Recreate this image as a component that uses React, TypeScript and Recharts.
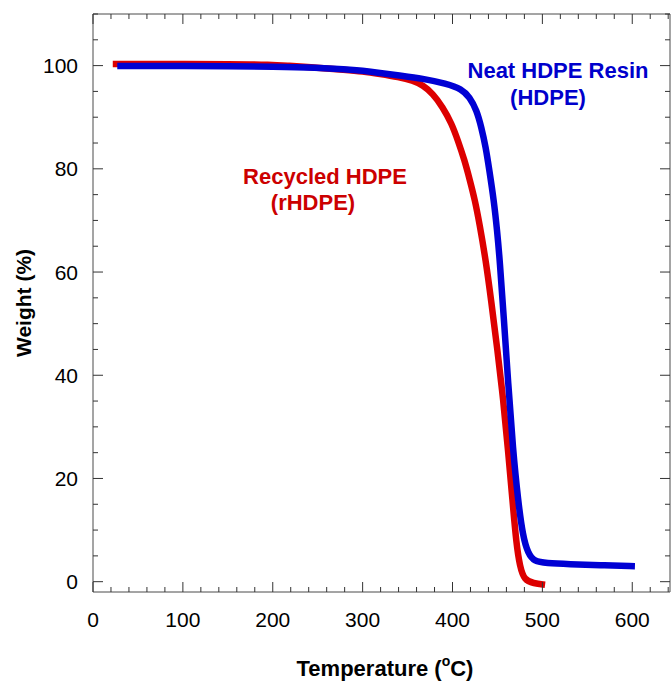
import React from "react";
import { LineChart, Line, XAxis, YAxis } from "recharts";

// rHDPE (recycled) TGA curve
const rhdpeTemp = [22, 60, 100, 150, 200, 215, 250, 280, 300, 319, 340, 356, 367, 378, 389, 399, 406, 413.5, 419, 425, 430, 437, 443, 450, 456.5, 461.8, 466.7, 471, 475, 480, 490, 503];
const rhdpeWeight = [100.3, 100.3, 100.3, 100.3, 100.2, 100.0, 99.6, 99.2, 98.9, 98.4, 97.8, 97.1, 96.2, 94.6, 92.0, 88.8, 85.5, 81.6, 78.0, 73.9, 69.4, 62.3, 54.5, 44.9, 35.2, 25.5, 15.8, 7.4, 2.9, 0.3, -0.3, -0.6];

// neat HDPE resin TGA curve
const hdpeTemp = [27, 60, 100, 150, 200, 250, 280, 300, 319, 340, 367, 393, 410, 419, 427, 432, 437, 441, 446, 449.6, 452.6, 457, 462, 467.3, 472.9, 478.4, 484, 491, 504, 530, 564, 603];
const hdpeWeight = [99.9, 99.9, 99.9, 99.9, 99.8, 99.6, 99.3, 99.0, 98.6, 98.1, 97.5, 96.5, 95.5, 93.9, 91.3, 88.1, 84.2, 79.7, 73.9, 68.1, 62.3, 51.3, 38.4, 25.5, 15.8, 8.7, 5.5, 3.9, 3.6, 3.4, 3.2, 3.0];

const xTicks = [0, 20, 40, 60, 80, 100, 120, 140, 160, 180, 200, 220, 240, 260, 280, 300, 320, 340, 360, 380, 400, 420, 440, 460, 480, 500, 520, 540, 560, 580, 600, 620, 640];
const xLabels = [0, 100, 200, 300, 400, 500, 600];
const yTicks = [0, 5, 10, 15, 20, 25, 30, 35, 40, 45, 50, 55, 60, 65, 70, 75, 80, 85, 90, 95, 100, 105, 110];
const yLabels = [0, 20, 40, 60, 80, 100];

const rhdpe = rhdpeTemp.map((t, i) => ({ t, w: rhdpeWeight[i] }));
const hdpe = hdpeTemp.map((t, i) => ({ t, w: hdpeWeight[i] }));

const font = "Liberation Sans, Arial, Helvetica, sans-serif";
const tickColor = "#333";
const frameColor = "#4a4a4a";

const BottomTick = (props: any) => {
  const { x, y, payload } = props;
  const v = payload.value;
  const major = v % 100 === 0;
  return (
    <g>
      <line x1={x} x2={x} y1={y} y2={y - (major ? 10 : 5)} stroke={tickColor} />
      {xLabels.includes(v) && (
        <text x={x} y={y + 35} textAnchor="middle" fontSize={21} fontFamily={font} fill="#000">
          {v}
        </text>
      )}
    </g>
  );
};

const TopTick = (props: any) => {
  const { x, y, payload } = props;
  const major = payload.value % 100 === 0;
  return <line x1={x} x2={x} y1={y} y2={y + (major ? 10 : 5)} stroke={tickColor} />;
};

const LeftTick = (props: any) => {
  const { x, y, payload } = props;
  const v = payload.value;
  const major = v % 20 === 0 && v <= 100;
  return (
    <g>
      <line x1={x} x2={x + (major ? 10 : 5)} y1={y} y2={y} stroke={tickColor} />
      {yLabels.includes(v) && (
        <text x={x - 15} y={y} dy="0.36em" textAnchor="end" fontSize={21} fontFamily={font} fill="#000">
          {v}
        </text>
      )}
    </g>
  );
};

const RightTick = (props: any) => {
  const { x, y, payload } = props;
  const v = payload.value;
  const major = v % 20 === 0 && v <= 100;
  return <line x1={x} x2={x - (major ? 10 : 5)} y1={y} y2={y} stroke={tickColor} />;
};

export default function App() {
  return (
    <div style={{ position: "absolute", left: 0, top: 0, width: 671, height: 682, background: "#fff" }}>
      <LineChart width={671} height={682} margin={{ top: 4, right: 0, bottom: 0, left: 0 }}>
        <XAxis
          xAxisId="bottom"
          dataKey="t"
          type="number"
          domain={[0, 642]}
          ticks={xTicks}
          interval={0}
          allowDataOverflow
          height={90}
          tickSize={0}
          tickMargin={0}
          tickLine={false}
          axisLine={{ stroke: frameColor }}
          tick={BottomTick}
        />
        <XAxis
          xAxisId="top"
          orientation="top"
          dataKey="t"
          type="number"
          domain={[0, 642]}
          ticks={xTicks}
          interval={0}
          allowDataOverflow
          height={10}
          tickSize={0}
          tickMargin={0}
          tickLine={false}
          axisLine={{ stroke: frameColor }}
          tick={TopTick}
        />
        <YAxis
          yAxisId="left"
          dataKey="w"
          type="number"
          domain={[-2, 110]}
          ticks={yTicks}
          interval={0}
          allowDataOverflow
          width={93}
          tickSize={0}
          tickMargin={0}
          tickLine={false}
          axisLine={{ stroke: frameColor }}
          tick={LeftTick}
        />
        <YAxis
          yAxisId="right"
          orientation="right"
          dataKey="w"
          type="number"
          domain={[-2, 110]}
          ticks={yTicks}
          interval={0}
          allowDataOverflow
          width={1}
          tickSize={0}
          tickMargin={0}
          tickLine={false}
          axisLine={{ stroke: frameColor }}
          tick={RightTick}
        />
        <Line
          xAxisId="top"
          yAxisId="right"
          data={rhdpe}
          dataKey="w"
          stroke="none"
          dot={false}
          isAnimationActive={false}
          legendType="none"
        />
        <Line
          xAxisId="bottom"
          yAxisId="left"
          data={rhdpe}
          dataKey="w"
          type="basis"
          stroke="#dd0000"
          strokeWidth={6.5}
          dot={false}
          isAnimationActive={false}
        />
        <Line
          xAxisId="bottom"
          yAxisId="left"
          data={hdpe}
          dataKey="w"
          type="basis"
          stroke="#0000d4"
          strokeWidth={6.5}
          dot={false}
          isAnimationActive={false}
        />
        <text x={325} y={184} textAnchor="middle" fontSize={22} fontWeight="bold" fontFamily={font} fill="#cc0000">
          Recycled HDPE
        </text>
        <text x={313} y={210} textAnchor="middle" fontSize={22} fontWeight="bold" fontFamily={font} fill="#cc0000">
          (rHDPE)
        </text>
        <text x={558} y={78} textAnchor="middle" fontSize={22} fontWeight="bold" fontFamily={font} fill="#0000cc">
          Neat HDPE Resin
        </text>
        <text x={548} y={105} textAnchor="middle" fontSize={22} fontWeight="bold" fontFamily={font} fill="#0000cc">
          (HDPE)
        </text>
        <text
          x={23}
          y={303}
          transform="rotate(-90, 23, 303)"
          textAnchor="middle"
          dominantBaseline="central"
          fontSize={21}
          fontWeight="bold"
          fontFamily={font}
          fill="#000"
        >
          Weight (%)
        </text>
        <text x={385} y={676} textAnchor="middle" fontSize={22} fontWeight="bold" fontFamily={font} fill="#000">
          Temperature (
          <tspan fontSize={14} dy={-10}>
            o
          </tspan>
          <tspan dy={10}>C)</tspan>
        </text>
      </LineChart>
    </div>
  );
}
